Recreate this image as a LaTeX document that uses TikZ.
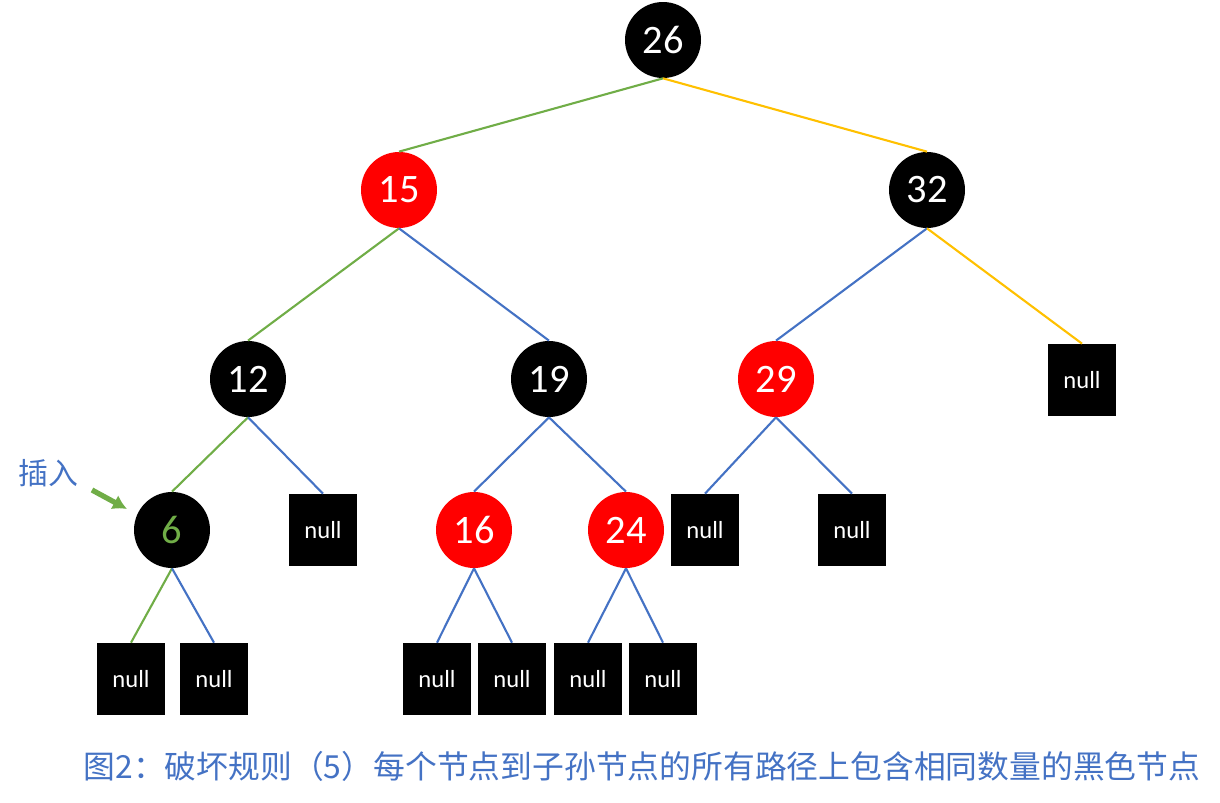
\documentclass[tikz,border=0pt]{standalone}
\usepackage{fontspec}
\usetikzlibrary{arrows.meta}
\setmainfont{Carlito}
\newfontfamily\cjk{Noto Sans CJK SC}
\definecolor{gr}{HTML}{70AD47}
\definecolor{bl}{HTML}{4472C4}
\definecolor{yl}{HTML}{FFC000}
\definecolor{rd}{HTML}{FF0000}
\begin{document}
\begin{tikzpicture}[x=0.02cm,y=-0.02cm,
  bk/.style={circle,fill=black,minimum size=1.52cm,inner sep=0,text=white,font=\fontsize{23}{23}\selectfont},
  rn/.style={bk,fill=rd},
  nl/.style={fill=black,minimum width=1.36cm,minimum height=1.44cm,inner sep=0,text=white,font=\fontsize{14}{14}\selectfont},
  e/.style={line width=1.2pt}]
\useasboundingbox (0,0) rectangle (1220,803);
\node[bk] (n26) at (663,40) {26};
\node[rn] (n15) at (399,190) {15};
\node[bk] (n32) at (927,190) {32};
\node[bk] (n12) at (248,379) {12};
\node[bk] (n19) at (549,379) {19};
\node[rn] (n29) at (776,379) {29};
\node[nl] (x1) at (1082,380) {null};
\node[bk,text=gr] (n6) at (172,530) {6};
\node[nl] (x2) at (323,530) {null};
\node[rn] (n16) at (474,530) {16};
\node[rn] (n24) at (626,530) {24};
\node[nl] (x3) at (705,530) {null};
\node[nl] (x4) at (852,530) {null};
\node[nl] (b1) at (131,679) {null};
\node[nl] (b2) at (214,679) {null};
\node[nl] (b3) at (437,679) {null};
\node[nl] (b4) at (512,679) {null};
\node[nl] (b5) at (588,679) {null};
\node[nl] (b6) at (663,679) {null};
\draw[e,gr] (n26.south) -- (n15.north);
\draw[e,yl] (n26.south) -- (n32.north);
\draw[e,gr] (n15.south) -- (n12.north);
\draw[e,bl] (n15.south) -- (n19.north);
\draw[e,bl] (n32.south) -- (n29.north);
\draw[e,yl] (n32.south) -- (x1.north);
\draw[e,gr] (n12.south) -- (n6.north);
\draw[e,bl] (n12.south) -- (x2.north);
\draw[e,bl] (n19.south) -- (n16.north);
\draw[e,bl] (n19.south) -- (n24.north);
\draw[e,bl] (n29.south) -- (x3.north);
\draw[e,bl] (n29.south) -- (x4.north);
\draw[e,gr] (n6.south) -- (b1.north);
\draw[e,bl] (n6.south) -- (b2.north);
\draw[e,bl] (n16.south) -- (b3.north);
\draw[e,bl] (n16.south) -- (b4.north);
\draw[e,bl] (n24.south) -- (b5.north);
\draw[e,bl] (n24.south) -- (b6.north);
\node[text=bl,font=\cjk\fontsize{17}{17}\selectfont] (ins) at (48,473) {插入};
\coordinate (as) at (92,490);
\coordinate (ae) at (127,509);
\draw[gr,line width=3pt,-{Latex[length=8pt,width=9pt]}] (as) -- (ae);
\node[text=bl,font=\cjk\fontsize{18.1}{18.1}\selectfont] (cap) at (642,766) {图2：破坏规则（5）每个节点到子孙节点的所有路径上包含相同数量的黑色节点};
\end{tikzpicture}
\end{document}
